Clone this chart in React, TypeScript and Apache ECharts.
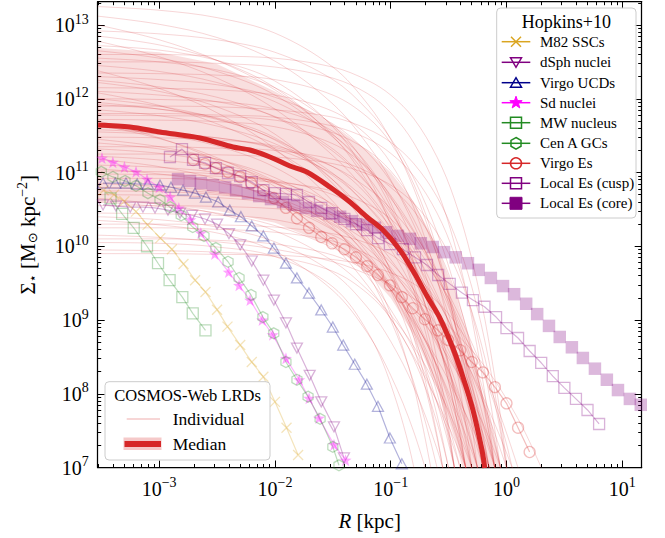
import React, { useEffect, useRef } from 'react';
import * as echarts from 'echarts';

const FONT = '"Liberation Serif", "Times New Roman", serif';

// ---- axis extents, all in log10 units ----
const X_MIN = -3.531;
const X_MAX = 1.168;
const Y_MIN = 7;
const Y_MAX = 13.316;
const X_MAJOR = [-3, -2, -1, 0, 1];
const Y_MAJOR = [7, 8, 9, 10, 11, 12, 13];

// ---- Hopkins+10 compilation: [log10 R/kpc, log10 Sigma/(Msun kpc^-2)] ----
const M82_SSCS = [[-3.48,10.76],[-3.39,10.70],[-3.30,10.61],[-3.20,10.47],[-3.10,10.29],[-2.99,10.11],[-2.89,9.96],[-2.79,9.76],[-2.69,9.54],[-2.60,9.38],[-2.50,9.14],[-2.41,8.91],[-2.30,8.66],[-2.20,8.43],[-2.10,8.23],[-2.00,7.89],[-1.90,7.54],[-1.80,7.17]];
const DSPH_NUCLEI = [[-3.485,10.56],[-3.373,10.545],[-3.25,10.53],[-3.14,10.53],[-3.036,10.52],[-2.924,10.49],[-2.82,10.45],[-2.717,10.42],[-2.604,10.37],[-2.50,10.30],[-2.397,10.17],[-2.30,10.02],[-2.20,9.80],[-2.10,9.54],[-2.009,9.27],[-1.905,8.96],[-1.81,8.62],[-1.70,8.25],[-1.60,7.89],[-1.49,7.55],[-1.404,7.13]];
const VIRGO_UCDS = [[-3.485,10.857],[-3.38,10.857],[-3.287,10.857],[-3.19,10.844],[-3.097,10.844],[-2.993,10.83],[-2.898,10.80],[-2.794,10.76],[-2.69,10.72],[-2.596,10.667],[-2.49,10.60],[-2.39,10.49],[-2.294,10.40],[-2.20,10.275],[-2.10,10.14],[-2.009,9.976],[-1.905,9.77],[-1.81,9.57],[-1.706,9.366],[-1.60,9.136],[-1.50,8.905],[-1.41,8.66],[-1.31,8.40],[-1.206,8.13],[-1.11,7.83],[-1.007,7.40],[-0.904,7.05]];
const SD_NUCLEI = [[-3.494,11.195],[-3.40,11.14],[-3.30,11.075],[-3.20,11.01],[-3.105,10.91],[-3.00,10.80],[-2.905,10.67],[-2.83,10.52],[-2.73,10.36],[-2.64,10.18],[-2.52,9.895],[-2.40,9.65],[-2.31,9.47],[-2.215,9.27],[-2.11,9.00],[-2.02,8.80],[-1.905,8.48],[-1.79,8.19],[-1.705,7.94],[-1.62,7.67],[-1.49,7.31],[-1.39,7.10]];
const MW_NUCLEUS = [[-3.42,10.65],[-3.32,10.44],[-3.22,10.25],[-3.105,10.00],[-3.01,9.77],[-2.91,9.54],[-2.80,9.31],[-2.71,9.09],[-2.60,8.86]];
const CENA_GCS = [[-3.50,11.01],[-3.40,10.94],[-3.295,10.885],[-3.20,10.82],[-3.097,10.72],[-2.993,10.63],[-2.905,10.53],[-2.81,10.42],[-2.71,10.26],[-2.613,10.14],[-2.51,9.976],[-2.405,9.79],[-2.31,9.57],[-2.207,9.34],[-2.104,9.04],[-2.01,8.82],[-1.905,8.43],[-1.81,8.19],[-1.714,7.96],[-1.61,7.66],[-1.50,7.28],[-1.447,7.03]];
const VIRGO_ES = [[-2.706,11.17],[-2.604,11.115],[-2.51,11.06],[-2.405,11.007],[-2.30,10.94],[-2.207,10.857],[-2.10,10.76],[-2.009,10.654],[-1.905,10.52],[-1.81,10.38],[-1.706,10.25],[-1.60,10.125],[-1.507,10.04],[-1.40,9.96],[-1.30,9.85],[-1.204,9.73],[-1.11,9.61],[-1.007,9.47],[-0.904,9.31],[-0.81,9.16],[-0.705,9.01],[-0.592,8.86],[-0.506,8.73],[-0.40,8.59],[-0.30,8.43],[-0.204,8.29],[-0.10,8.09],[0.00,7.87],[0.10,7.54],[0.20,7.21]];
const LOCAL_ES_CUSP = [[-2.907,11.21],[-2.803,11.317],[-2.708,11.17],[-2.604,11.13],[-2.51,11.06],[-2.406,10.993],[-2.30,10.95],[-2.20,10.87],[-2.10,10.76],[-2.00,10.72],[-1.905,10.71],[-1.81,10.695],[-1.706,10.60],[-1.60,10.52],[-1.507,10.45],[-1.40,10.37],[-1.30,10.30],[-1.204,10.22],[-1.11,10.11],[-1.007,10.03],[-0.895,9.96],[-0.79,9.85],[-0.687,9.746],[-0.59,9.61],[-0.49,9.49],[-0.385,9.37],[-0.29,9.27],[-0.19,9.18],[-0.09,9.04],[0.00,8.89],[0.10,8.756],[0.20,8.58],[0.30,8.42],[0.40,8.24],[0.50,8.08],[0.60,7.93],[0.70,7.78],[0.80,7.59]];
const LOCAL_ES_CORE = [[-2.837,10.91],[-2.734,10.885],[-2.64,10.857],[-2.535,10.83],[-2.43,10.80],[-2.336,10.76],[-2.233,10.72],[-2.136,10.68],[-2.034,10.64],[-1.93,10.60],[-1.835,10.56],[-1.733,10.52],[-1.636,10.48],[-1.53,10.44],[-1.437,10.40],[-1.335,10.34],[-1.24,10.29],[-1.137,10.25],[-1.04,10.19],[-0.938,10.14],[-0.834,10.10],[-0.74,10.04],[-0.636,9.99],[-0.54,9.92],[-0.438,9.85],[-0.333,9.77],[-0.24,9.68],[-0.135,9.57],[-0.03,9.46],[0.066,9.35],[0.17,9.22],[0.265,9.08],[0.367,8.92],[0.46,8.77],[0.565,8.63],[0.66,8.485],[0.764,8.34],[0.867,8.19],[0.963,8.05],[1.066,7.93],[1.16,7.85]];

// ---- COSMOS-Web LRDs: individual profiles sampled on a common log10 R grid ----
const LRD_LOGR = [-3.53, -3, -2.5, -2, -1.5, -1.2, -1, -0.8, -0.6, -0.45, -0.3, -0.15, 0, 0.15, 0.3];
const LRD_CURVES = [
  [13.25,13.20,13.10,12.89,12.43,11.93,11.45,10.78,9.88,9.00,7.89,6.50],
  [13.12,13.01,12.83,12.51,11.93,11.38,10.90,10.29,9.53,8.82,7.99,7.00,5.82],
  [13.00,12.80,12.52,12.12,11.52,11.04,10.65,10.19,9.66,9.20,8.69,8.12,7.47,6.75],
  [12.92,12.88,12.80,12.63,12.26,11.85,11.46,10.92,10.19,9.47,8.57,7.44,6.01],
  [12.85,12.73,12.52,12.15,11.49,10.87,10.32,9.62,8.75,7.95,7.00,5.87],
  [12.78,12.57,12.28,11.86,11.23,10.73,10.32,9.84,9.29,8.81,8.27,7.67,7.00,6.24],
  [12.72,12.66,12.52,12.24,11.62,10.95,10.29,9.40,8.19,7.00,5.51],
  [12.65,12.55,12.37,12.05,11.48,10.95,10.48,9.88,9.13,8.44,7.63,6.66],
  [12.60,12.60,12.58,12.55,12.43,12.25,12.05,11.73,11.21,10.64,9.83,8.69,7.07,4.79],
  [12.55,12.50,12.39,12.15,11.64,11.08,10.53,9.79,8.78,7.80,6.55],
  [12.50,12.50,12.48,12.43,12.28,12.07,11.81,11.40,10.76,10.04,9.03,7.60,5.58],
  [12.45,12.37,12.22,11.96,11.51,11.07,10.69,10.21,9.60,9.05,8.39,7.60,6.67],
  [12.38,12.14,11.81,11.32,10.61,10.03,9.56,9.02,8.38,7.83,7.22,6.53],
  [12.35,12.34,12.32,12.26,12.05,11.75,11.40,10.84,9.96,8.97,7.58,5.61],
  [12.30,12.26,12.19,12.02,11.66,11.27,10.88,10.36,9.66,8.97,8.10,7.00,5.62],
  [12.25,12.16,12.02,11.75,11.29,10.84,10.45,9.96,9.34,8.78,8.10,7.30,6.35],
  [12.22,12.10,11.89,11.52,10.85,10.23,9.68,8.98,8.10,7.30,6.35],
  [12.15,12.14,12.12,12.05,11.83,11.50,11.13,10.52,9.57,8.51,7.00,4.88],
  [12.10,12.05,11.96,11.76,11.32,10.85,10.38,9.75,8.90,8.06,7.00,5.67],
  [12.08,11.91,11.66,11.30,10.78,10.35,10.00,9.60,9.13,8.73,8.28,7.77,7.20,6.57],
  [12.00,11.99,11.96,11.86,11.56,11.11,10.59,9.77,8.46,7.00,4.94],
  [12.00,11.90,11.73,11.44,10.90,10.40,9.96,9.40,8.70,8.05,7.29,6.38],
  [11.95,11.86,11.72,11.45,10.99,10.54,10.15,9.66,9.04,8.48,7.80,7.00,6.05],
  [11.92,11.86,11.74,11.47,10.90,10.27,9.66,8.83,7.71,6.60],
  [11.90,11.90,11.89,11.85,11.75,11.59,11.41,11.12,10.67,10.16,9.45,8.43,7.00,4.98],
  [11.85,11.77,11.63,11.39,10.96,10.55,10.19,9.74,9.16,8.64,8.02,7.28,6.40],
  [11.80,11.80,11.78,11.75,11.63,11.46,11.26,10.95,10.45,9.89,9.10,7.99,6.41],
  [11.78,11.77,11.76,11.71,11.54,11.30,11.02,10.58,9.88,9.09,7.98,6.42],
  [11.72,11.71,11.69,11.62,11.39,11.06,10.67,10.05,9.07,7.97,6.42],
  [11.70,11.47,11.16,10.70,10.02,9.47,9.02,8.50,7.90,7.38,6.80],
  [11.65,11.46,11.20,10.81,10.24,9.78,9.41,8.97,8.47,8.03,7.55,7.00,6.39],
  [11.62,11.52,11.36,11.07,10.55,10.05,9.62,9.07,8.38,7.75,7.00,6.11],
  [11.58,11.54,11.47,11.32,10.98,10.61,10.26,9.77,9.11,8.47,7.66,6.63],
  [11.55,11.52,11.47,11.34,11.08,10.79,10.51,10.13,9.61,9.10,8.46,7.65,6.64],
  [11.48,11.47,11.44,11.36,11.08,10.69,10.22,9.48,8.31,7.00,5.15],
  [11.45,11.35,11.18,10.88,10.35,9.85,9.41,8.85,8.14,7.50,6.73],
  [11.40,11.32,11.18,10.93,10.49,10.08,9.71,9.24,8.66,8.12,7.49,6.73],
  [11.35,11.35,11.33,11.30,11.18,11.01,10.80,10.48,9.98,9.41,8.61,7.47,5.87],
  [11.32,11.26,11.13,10.86,10.27,9.63,9.00,8.15,7.00,5.87],
  [11.25,11.25,11.24,11.21,11.12,10.98,10.83,10.58,10.18,9.74,9.12,8.24,7.00,5.25],
  [11.22,11.17,11.07,10.86,10.41,9.91,9.43,8.77,7.88,7.00,5.90],
  [11.18,11.08,10.91,10.62,10.09,9.59,9.14,8.59,7.88,7.24,6.48],
  [11.10,11.07,11.00,10.85,10.52,10.17,9.82,9.35,8.72,8.09,7.31,6.32],
  [11.05,10.98,10.87,10.67,10.31,9.97,9.66,9.29,8.81,8.37,7.85,7.23,6.50],
  [11.02,11.01,10.98,10.88,10.57,10.12,9.60,8.76,7.44,5.96],
  [10.98,10.97,10.95,10.89,10.70,10.42,10.09,9.57,8.74,7.82,6.51],
  [10.92,10.92,10.90,10.87,10.75,10.57,10.37,10.04,9.53,8.96,8.15,7.00,5.38],
  [10.85,10.81,10.74,10.57,10.22,9.83,9.45,8.94,8.24,7.55,6.69],
  [10.80,10.77,10.72,10.60,10.34,10.06,9.78,9.41,8.91,8.41,7.79,7.00,6.01],
  [10.75,10.74,10.70,10.59,10.23,9.70,9.08,8.10,6.54],
  [10.70,10.69,10.66,10.57,10.29,9.87,9.39,8.62,7.40,6.04],
  [10.65,10.57,10.44,10.21,9.80,9.41,9.07,8.64,8.09,7.59,7.00,6.29],
  [10.60,10.54,10.45,10.28,9.98,9.69,9.44,9.12,8.72,8.35,7.92,7.40,6.78],
  [10.55,10.55,10.54,10.51,10.43,10.30,10.15,9.92,9.55,9.14,8.55,7.73,6.57],
  [10.45,10.44,10.42,10.36,10.15,9.84,9.48,8.91,8.01,7.00,5.58],
  [10.40,10.36,10.26,10.06,9.64,9.17,8.71,8.09,7.25,6.43],
  [10.35,10.29,10.18,9.93,9.40,8.82,8.25,7.48,6.44],
  [10.30,10.30,10.29,10.26,10.17,10.04,9.89,9.64,9.26,8.83,8.22,7.36,6.15],
  [10.25,10.25,10.23,10.19,10.07,9.89,9.67,9.34,8.80,8.20,7.35,6.16],
  [10.15,10.12,10.06,9.96,9.79,9.62,9.48,9.29,9.06,8.84,8.59,8.29,7.93,7.51,7.00],
  [10.10,10.10,10.08,10.03,9.88,9.66,9.41,9.00,8.36,7.64,6.62],
  [10.05,10.04,9.99,9.86,9.45,8.84,8.13,7.00,5.21],
  [9.95,9.94,9.92,9.86,9.66,9.36,9.02,8.47,7.61,6.64],
  [9.90,9.90,9.89,9.88,9.82,9.74,9.64,9.49,9.25,8.98,8.61,8.07,7.32,6.25],
];

// median profile and its percentile band
const MEDIAN = [[-3.528,11.644],[-3.252,11.617],[-2.993,11.549],[-2.648,11.468],[-2.363,11.346],[-2.216,11.305],[-2.043,11.21],[-1.870,11.088],[-1.724,11.007],[-1.525,10.803],[-1.352,10.600],[-1.205,10.397],[-1.067,10.220],[-0.920,9.949],[-0.791,9.624],[-0.687,9.325],[-0.575,9.027],[-0.463,8.620],[-0.376,8.227],[-0.290,7.780],[-0.212,7.237],[-0.187,6.993]];
const BAND_HI_LOGR = [-3.53,-3,-2.5,-2,-1.5,-1.2,-1,-0.8,-0.6,-0.45,-0.3,-0.15,-0.05];
const BAND_HI = [12.69,12.63,12.47,12.10,11.65,11.30,11.0,10.6,10.0,9.4,8.6,7.6,7.0];
const BAND_LO_LOGR = [-3.53,-3,-2.5,-2,-1.5,-1.2,-1,-0.8,-0.6,-0.45,-0.38];
const BAND_LO = [10.60,10.57,10.48,10.32,10.0,9.65,9.3,8.8,8.1,7.4,7.0];

// ---- styling ----
const RED = '#d62728';
const GRID = { left: 97.7, top: 1.7, right: 23.3, bottom: 70.5 };

function minorTicks(lo: number, hi: number) {
  const out: number[] = [];
  for (let d = Math.floor(lo) - 1; d <= Math.ceil(hi); d++) {
    for (let k = 2; k <= 9; k++) {
      const v = d + Math.log10(k);
      if (v > lo + 1e-6 && v < hi - 1e-6) out.push(v);
    }
  }
  return out;
}
const X_MINOR = minorTicks(X_MIN, X_MAX);
const Y_MINOR = minorTicks(Y_MIN, Y_MAX);

function polyPath(pts: number[][]) {
  return 'path://' + pts.map((p, i) => (i ? 'L' : 'M') + p[0].toFixed(2) + ',' + p[1].toFixed(2)).join('') + 'Z';
}
function starPts(cx: number, cy: number, ro: number, ri: number) {
  const pts: number[][] = [];
  for (let i = 0; i < 10; i++) {
    const a = -Math.PI / 2 + (i * Math.PI) / 5;
    const r = i % 2 === 0 ? ro : ri;
    pts.push([cx + r * Math.cos(a), cy + r * Math.sin(a)]);
  }
  return pts;
}
function hexPts(cx: number, cy: number, r: number) {
  const pts: number[][] = [];
  for (let i = 0; i < 6; i++) {
    const a = -Math.PI / 2 + (i * Math.PI) / 3;
    pts.push([cx + r * Math.cos(a), cy + r * Math.sin(a)]);
  }
  return pts;
}
const X_SYMBOL = 'path://M0,0L10,10M10,0L0,10';
const TRI_DOWN = 'path://M0,0L10,0L5,8.66Z';
const STAR_SYMBOL = polyPath(starPts(10, 10, 10, 4));
const HEX_SYMBOL = polyPath(hexPts(10, 10, 10));

const HOPKINS = [
  { name: 'M82 SSCs', data: M82_SSCS, rgb: '218,165,32', kind: 'x' },
  { name: 'dSph nuclei', data: DSPH_NUCLEI, rgb: '128,0,128', kind: 'tri_down' },
  { name: 'Virgo UCDs', data: VIRGO_UCDS, rgb: '0,0,139', kind: 'tri_up' },
  { name: 'Sd nuclei', data: SD_NUCLEI, rgb: '255,0,255', kind: 'star' },
  { name: 'MW nucleus', data: MW_NUCLEUS, rgb: '34,139,34', kind: 'square' },
  { name: 'Cen A GCs', data: CENA_GCS, rgb: '34,139,34', kind: 'hex' },
  { name: 'Virgo Es', data: VIRGO_ES, rgb: '214,39,40', kind: 'circle' },
  { name: 'Local Es (cusp)', data: LOCAL_ES_CUSP, rgb: '128,0,128', kind: 'square' },
  { name: 'Local Es (core)', data: LOCAL_ES_CORE, rgb: '128,0,128', kind: 'square_filled' },
];

function symbolFor(kind: string): { symbol: string; size: any; filled: boolean } {
  switch (kind) {
    case 'x': return { symbol: X_SYMBOL, size: [10, 10], filled: false };
    case 'tri_down': return { symbol: TRI_DOWN, size: [11, 10], filled: false };
    case 'tri_up': return { symbol: 'triangle', size: [11, 10], filled: false };
    case 'star': return { symbol: STAR_SYMBOL, size: [12, 12], filled: true };
    case 'square': return { symbol: 'rect', size: [11, 11], filled: false };
    case 'hex': return { symbol: HEX_SYMBOL, size: [10, 11], filled: false };
    case 'circle': return { symbol: 'circle', size: [11, 11], filled: false };
    default: return { symbol: 'rect', size: [12.5, 12.5], filled: true };
  }
}

function expLabel(v: number) {
  const n = Math.round(v);
  const s = n < 0 ? '\u2212' + Math.abs(n) : String(n);
  return '{b|10}{s|' + s + '}';
}
const LABEL_RICH = {
  b: { fontSize: 20, fontFamily: FONT, color: '#000' },
  s: { fontSize: 14, fontFamily: FONT, color: '#000', padding: [0, 0, 12, 0] },
};

const AXIS_LINE = { color: '#000', width: 1.25 };
const TICK_LINE = { color: '#000', width: 1 };

function makeAxis(dim: 'x' | 'y', position: string, major: boolean, labels: boolean, showLine: boolean) {
  const isX = dim === 'x';
  return {
    type: 'value',
    min: isX ? X_MIN : Y_MIN,
    max: isX ? X_MAX : Y_MAX,
    position,
    axisLine: { show: showLine, onZero: false, lineStyle: AXIS_LINE },
    axisTick: {
      show: true,
      inside: true,
      length: major ? 7 : 3.5,
      lineStyle: TICK_LINE,
      customValues: major ? (isX ? X_MAJOR : Y_MAJOR) : isX ? X_MINOR : Y_MINOR,
    },
    axisLabel: labels
      ? {
          show: true,
          customValues: isX ? X_MAJOR : Y_MAJOR,
          formatter: expLabel,
          rich: LABEL_RICH,
          margin: isX ? 8 : 9,
          color: '#000',
        }
      : { show: false },
    splitLine: { show: false },
    minorTick: { show: false },
    minorSplitLine: { show: false },
  };
}

function legendMarker(kind: string, cx: number, cy: number, color: string, z: number): any[] {
  const lw = 1.5;
  const none = 'rgba(0,0,0,0)';
  switch (kind) {
    case 'x':
      return [
        { type: 'line', z, shape: { x1: cx - 5, y1: cy - 5, x2: cx + 5, y2: cy + 5 }, style: { stroke: color, lineWidth: lw } },
        { type: 'line', z, shape: { x1: cx + 5, y1: cy - 5, x2: cx - 5, y2: cy + 5 }, style: { stroke: color, lineWidth: lw } },
      ];
    case 'tri_down':
      return [{ type: 'polygon', z, shape: { points: [[cx - 5.5, cy - 4.5], [cx + 5.5, cy - 4.5], [cx, cy + 5]] }, style: { fill: none, stroke: color, lineWidth: lw } }];
    case 'tri_up':
      return [{ type: 'polygon', z, shape: { points: [[cx - 5.5, cy + 4.5], [cx + 5.5, cy + 4.5], [cx, cy - 5]] }, style: { fill: none, stroke: color, lineWidth: lw } }];
    case 'star':
      return [{ type: 'polygon', z, shape: { points: starPts(cx, cy, 6.5, 2.6) }, style: { fill: color, stroke: color, lineWidth: 1 } }];
    case 'square':
      return [{ type: 'rect', z, shape: { x: cx - 5.5, y: cy - 5.5, width: 11, height: 11 }, style: { fill: none, stroke: color, lineWidth: lw } }];
    case 'hex':
      return [{ type: 'polygon', z, shape: { points: hexPts(cx, cy, 5.8) }, style: { fill: none, stroke: color, lineWidth: lw } }];
    case 'circle':
      return [{ type: 'circle', z, shape: { cx, cy, r: 5.5 }, style: { fill: none, stroke: color, lineWidth: lw } }];
    default:
      return [{ type: 'rect', z, shape: { x: cx - 6, y: cy - 6, width: 12, height: 12 }, style: { fill: color, stroke: color, lineWidth: 1 } }];
  }
}

function buildGraphics() {
  const els: any[] = [];
  // Hopkins legend
  els.push({ type: 'rect', shape: { x: 496.7, y: 8, width: 139.3, height: 210, r: 4 }, style: { fill: 'rgba(255,255,255,0.85)', stroke: '#cccccc', lineWidth: 1 }, z: 50 });
  els.push({ type: 'text', x: 566.3, y: 21.5, style: { text: 'Hopkins+10', font: '18px ' + FONT, fill: '#000', align: 'center', verticalAlign: 'middle' }, z: 51 });
  const rows = [41.7, 62.3, 82.7, 102.7, 122.7, 143.3, 163.3, 183.3, 203.3];
  HOPKINS.forEach((h, i) => {
    const y = rows[i];
    const c = 'rgb(' + h.rgb + ')';
    els.push({ type: 'line', shape: { x1: 501.7, y1: y, x2: 530.3, y2: y }, style: { stroke: c, lineWidth: 1.5 }, z: 51 });
    legendMarker(h.kind, 516, y, c, 52).forEach((m) => els.push(m));
    els.push({ type: 'text', x: 540, y: y, style: { text: h.name, font: '15px ' + FONT, fill: '#000', align: 'left', verticalAlign: 'middle' }, z: 52 });
  });
  // LRD legend
  els.push({ type: 'rect', shape: { x: 105, y: 381.7, width: 165, height: 78.3, r: 4 }, style: { fill: 'rgba(255,255,255,0.85)', stroke: '#cccccc', lineWidth: 1 }, z: 50 });
  els.push({ type: 'text', x: 187.5, y: 395.5, style: { text: 'COSMOS-Web LRDs', font: '16.5px ' + FONT, fill: '#000', align: 'center', verticalAlign: 'middle' }, z: 51 });
  els.push({ type: 'line', shape: { x1: 126.7, y1: 419, x2: 160, y2: 419 }, style: { stroke: 'rgba(214,39,40,0.25)', lineWidth: 1.5 }, z: 51 });
  els.push({ type: 'text', x: 172.7, y: 419, style: { text: 'Individual', font: '17.5px ' + FONT, fill: '#000', align: 'left', verticalAlign: 'middle' }, z: 51 });
  els.push({ type: 'rect', shape: { x: 123.5, y: 437.5, width: 38, height: 12.5 }, style: { fill: 'rgba(214,39,40,0.25)' }, z: 51 });
  els.push({ type: 'line', shape: { x1: 124.5, y1: 444, x2: 161, y2: 444 }, style: { stroke: RED, lineWidth: 6 }, z: 52 });
  els.push({ type: 'text', x: 172.7, y: 444, style: { text: 'Median', font: '17.5px ' + FONT, fill: '#000', align: 'left', verticalAlign: 'middle' }, z: 51 });
  // axis titles
  els.push({
    type: 'text', x: 369.7, y: 521,
    style: {
      text: '{i|R} [kpc]', font: '21px ' + FONT, fill: '#000', align: 'center', verticalAlign: 'middle',
      rich: { i: { fontStyle: 'italic', fontSize: 21, fontFamily: FONT } },
    },
  });
  els.push({
    type: 'text', x: 28, y: 234.7, rotation: Math.PI / 2,
    style: {
      text: '{a|\u03A3}{sub|\u22C6}{a| [M}{sub|\u2299}{a| kpc}{sup|\u22122}{a|]}',
      font: '21px ' + FONT, fill: '#000', align: 'center', verticalAlign: 'middle',
      rich: {
        a: { fontSize: 21, fontFamily: FONT },
        sub: { fontSize: 13, fontFamily: '"DejaVu Sans", ' + FONT, padding: [9, 0, 0, 0] },
        sup: { fontSize: 14, fontFamily: FONT, padding: [0, 0, 12, 0] },
      },
    },
  });
  return els;
}

function buildOption() {
  const series: any[] = [];
  // percentile band around the median
  series.push({
    type: 'custom',
    coordinateSystem: 'cartesian2d',
    xAxisIndex: 0,
    yAxisIndex: 0,
    silent: true,
    z: 1,
    data: [[0, 10]],
    renderItem: (_params: any, api: any) => {
      const pts: number[][] = [];
      BAND_HI_LOGR.forEach((g, i) => pts.push(api.coord([g, BAND_HI[i]])));
      for (let i = BAND_LO_LOGR.length - 1; i >= 0; i--) pts.push(api.coord([BAND_LO_LOGR[i], BAND_LO[i]]));
      return { type: 'polygon', shape: { points: pts }, style: { fill: 'rgba(214,39,40,0.15)', stroke: 'none' } };
    },
  });
  LRD_CURVES.forEach((c) => {
    series.push({
      type: 'line',
      data: c.map((v, j) => [LRD_LOGR[j], v]),
      symbol: 'none',
      smooth: 0.35,
      silent: true,
      z: 2,
      clip: true,
      lineStyle: { color: 'rgba(214,39,40,0.19)', width: 1 },
    });
  });
  HOPKINS.forEach((h) => {
    const s = symbolFor(h.kind);
    const col = 'rgba(' + h.rgb + ',0.3)';
    const isCore = h.kind === 'square_filled';
    const filledNoEdge = isCore || h.kind === 'star';
    series.push({
      type: 'line',
      name: h.name,
      data: h.data,
      symbol: s.symbol,
      symbolSize: s.size,
      showAllSymbol: true,
      silent: true,
      z: 3,
      clip: true,
      lineStyle: isCore ? { color: col, width: 0, opacity: 0 } : { color: col, width: 1.2 },
      itemStyle: {
        color: s.filled ? (isCore ? 'rgba(128,0,128,0.28)' : 'rgba(255,0,255,0.35)') : 'rgba(0,0,0,0)',
        borderColor: filledNoEdge ? 'rgba(0,0,0,0)' : col,
        borderWidth: filledNoEdge ? 0 : 1.3,
      },
    });
  });
  series.push({
    type: 'line',
    data: MEDIAN,
    symbol: 'none',
    smooth: 0.3,
    silent: true,
    z: 5,
    clip: true,
    lineStyle: { color: RED, width: 5 },
  });

  return {
    animation: false,
    backgroundColor: '#ffffff',
    textStyle: { fontFamily: FONT },
    grid: { ...GRID, containLabel: false, outerBoundsMode: 'none' },
    xAxis: [
      makeAxis('x', 'bottom', true, true, true),
      makeAxis('x', 'bottom', false, false, false),
      makeAxis('x', 'top', true, false, true),
      makeAxis('x', 'top', false, false, false),
    ],
    yAxis: [
      makeAxis('y', 'left', true, true, true),
      makeAxis('y', 'left', false, false, false),
      makeAxis('y', 'right', true, false, true),
      makeAxis('y', 'right', false, false, false),
    ],
    series,
    graphic: buildGraphics(),
  };
}

export default function App() {
  const ref = useRef<HTMLDivElement>(null);
  useEffect(() => {
    if (!ref.current) return;
    const chart = echarts.init(ref.current, null, { renderer: 'svg' });
    chart.setOption(buildOption() as any);
    return () => chart.dispose();
  }, []);
  return (
    <div
      ref={ref}
      style={{ position: 'fixed', left: 0, top: 0, width: 665, height: 538, background: '#fff' }}
    />
  );
}
